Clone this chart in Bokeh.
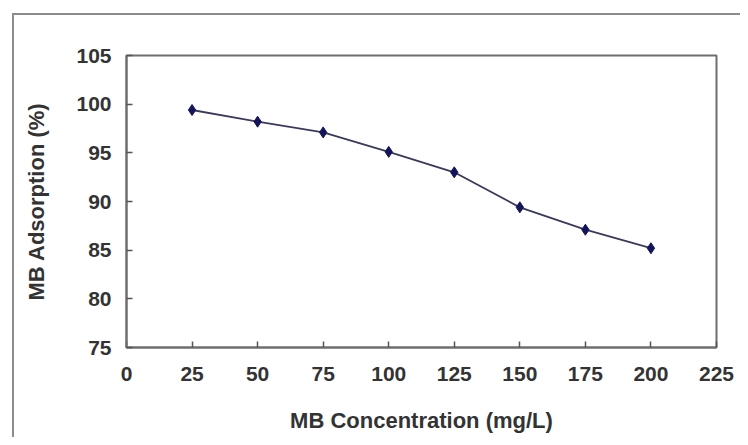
from bokeh.plotting import figure
from bokeh.layouts import column
from bokeh.models import FixedTicker
from bokeh.embed import file_html
from bokeh.resources import INLINE

concentration = [25, 50, 75, 100, 125, 150, 175, 200]
adsorption = [99.4, 98.2, 97.1, 95.1, 93.0, 89.4, 87.1, 85.2]
x_ticks = [0, 25, 50, 75, 100, 125, 150, 175, 200, 225]
y_ticks = [75, 80, 85, 90, 95, 100, 105]

FONT = "Liberation Sans"
TXT = "#333333"

p = figure(width=726, height=422, output_backend="svg", toolbar_location=None,
           x_range=(0, 225), y_range=(75, 105),
           min_border_left=112, min_border_top=40, min_border_right=24, min_border_bottom=90)
p.frame_width = 590
p.frame_height = 292

p.grid.visible = False
p.outline_line_color = "#6e6e6e"
p.outline_line_width = 2

for ax in (p.xaxis[0], p.yaxis[0]):
    ax.axis_line_color = "#6e6e6e"
    ax.axis_line_width = 2
    ax.major_tick_line_color = "#555555"
    ax.major_tick_line_width = 1.5
    ax.major_tick_in = 6
    ax.major_tick_out = 0
    ax.minor_tick_line_color = None
    ax.major_label_text_font = FONT
    ax.major_label_text_font_size = "21px"
    ax.major_label_text_font_style = "bold"
    ax.major_label_text_color = TXT
    ax.axis_label_text_font = FONT
    ax.axis_label_text_font_size = "22px"
    ax.axis_label_text_font_style = "bold"
    ax.axis_label_text_color = TXT

p.xaxis.ticker = FixedTicker(ticks=x_ticks)
p.yaxis.ticker = FixedTicker(ticks=y_ticks)
p.xaxis.axis_label = "MB Concentration (mg/L)"
p.yaxis.axis_label = "MB Adsorption (%)"
p.xaxis.major_label_standoff = 19
p.yaxis.major_label_standoff = 15
p.xaxis.axis_label_standoff = 24
p.yaxis.axis_label_standoff = 24

p.line(concentration, adsorption, line_color="#3a3a5e", line_width=1.8)
p.scatter(concentration, adsorption, marker="diamond", size=11,
          fill_color="#14145a", line_color="#14145a")

layout = column(p, styles={"border-top": "2px solid #8c8c8c",
                           "border-left": "2px solid #8c8c8c",
                           "margin-left": "12px", "margin-top": "13px"})

open("out.html", "w").write(file_html(layout, INLINE))
